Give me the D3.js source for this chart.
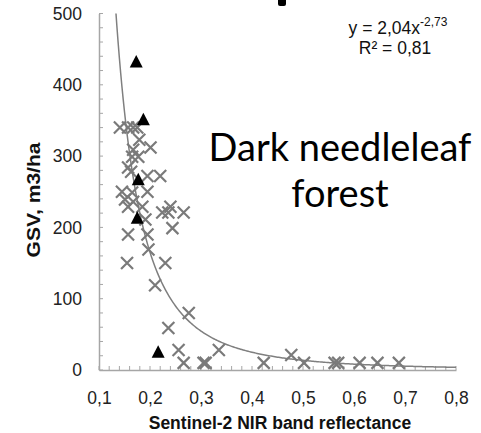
<!DOCTYPE html>
<html><head><meta charset="utf-8">
<script src="https://cdn.jsdelivr.net/npm/d3@7"></script>
<style>body{margin:0;background:#fff}svg{display:block}</style>
</head><body>
<svg id="c" width="481" height="433"></svg>
<script>
// Data
const crossX = [0.141,0.157,0.167,0.175,0.179,0.201,0.167,0.165,0.177,0.157,0.163,0.195,0.220,0.145,0.165,0.195,0.151,0.167,0.157,0.185,0.240,0.224,0.236,0.266,0.191,0.244,0.157,0.195,0.197,0.155,0.230,0.210,0.276,0.236,0.256,0.266,0.305,0.309,0.335,0.423,0.477,0.502,0.562,0.569,0.611,0.646,0.688];
const crossY = [340,340,340,340,323,312,309,299,299,284,278,272,272,250,249,250,239,236,229,229,229,221,221,221,211,199,190,190,169,150,150,119,80,59,28,10,10,10,28,10,21,10,10,10,10,10,10];
const triX = [0.173,0.187,0.177,0.175,0.216];
const triY = [432,351,267,213,25];
const fitA = 2.04, fitB = -2.73;
const xTicks = [0.1,0.2,0.3,0.4,0.5,0.6,0.7,0.8];
const yTicks = [0,100,200,300,400,500];
const eqText = "y = 2,04x", eqExp = "-2,73", r2Text = "R² = 0,81";
const titleX = "Sentinel-2 NIR band reflectance", titleY = "GSV, m3/ha";
const noteLines = ["Dark needleleaf","forest"];

const svg = d3.select("#c");
const x = d3.scaleLinear().domain([0.1,0.8]).range([99,456]);
const y = d3.scaleLinear().domain([0,500]).range([370,13.5]);
const axisCol = "#a6a6a6", markCol = "#7a7a7a";
const font = "Liberation Sans, Arial, sans-serif";
const fmt = d => String(d).replace(".", ",");

// small cropped black fragment at top
svg.append("path").attr("d","M278,0 H286 V4 Q286,6 284,6 H280 Q278,6 278,4 Z").attr("fill","#000");

// minor ticks (inside)
const gx = svg.append("g");
gx.selectAll("line.mx").data(d3.range(0.1,0.8001,0.02)).join("line")
  .attr("x1",d=>x(d)).attr("x2",d=>x(d)).attr("y1",370).attr("y2",366)
  .attr("stroke",axisCol).attr("stroke-width",1);
gx.selectAll("line.my").data(d3.range(0,500.1,20)).join("line")
  .attr("x1",99).attr("x2",103).attr("y1",d=>y(d)).attr("y2",d=>y(d))
  .attr("stroke",axisCol).attr("stroke-width",1);

// axes
const xAxis = d3.axisBottom(x).tickValues(xTicks).tickSize(0).tickPadding(22).tickFormat(fmt);
const gxa = svg.append("g").attr("transform","translate(0,370)").call(xAxis);
gxa.select(".domain").attr("stroke",axisCol).attr("stroke-width",1.5);
gxa.selectAll("text").attr("font-family",font).attr("font-size",17.5).attr("fill","#222");

const yAxis = d3.axisLeft(y).tickValues(yTicks).tickSize(0).tickPadding(17);
const gya = svg.append("g").attr("transform","translate(99,0)").call(yAxis);
gya.select(".domain").attr("stroke",axisCol).attr("stroke-width",1.5);
gya.selectAll("text").attr("font-family",font).attr("font-size",17.5).attr("fill","#222");

// trendline from the displayed equation
svg.append("clipPath").attr("id","pc").append("rect").attr("x",99).attr("y",13.5).attr("width",358).attr("height",357);
const curveXs = d3.range(0.125,0.8001,0.0025);
svg.append("path").attr("clip-path","url(#pc)")
  .attr("d", d3.line().x(d=>x(d)).y(d=>y(fitA*Math.pow(d,fitB)))(curveXs))
  .attr("fill","none").attr("stroke","#7f7f7f").attr("stroke-width",1.5);

// crosses
const s = 6;
svg.append("g").selectAll("path").data(d3.range(crossX.length)).join("path")
  .attr("d", i => { const cx=x(crossX[i]), cy=y(crossY[i]);
    return `M${cx-s},${cy-s}L${cx+s},${cy+s}M${cx-s},${cy+s}L${cx+s},${cy-s}`; })
  .attr("stroke",markCol).attr("stroke-width",2.2).attr("fill","none");

// triangles
svg.append("g").selectAll("path").data(d3.range(triX.length)).join("path")
  .attr("d", i => { const cx=x(triX[i]), cy=y(triY[i]);
    return `M${cx},${cy-7}L${cx+6.5},${cy+5.5}L${cx-6.5},${cy+5.5}Z`; })
  .attr("fill","#000");

// titles
svg.append("text").attr("x",280).attr("y",429).attr("text-anchor","middle")
  .attr("font-family",font).attr("font-weight","bold").attr("font-size",17.5)
  .attr("fill","#111").text(titleX);
svg.append("text").attr("transform","translate(40,200) rotate(-90)").attr("text-anchor","middle")
  .attr("font-family",font).attr("font-weight","bold").attr("font-size",18)
  .attr("textLength",115).attr("lengthAdjust","spacingAndGlyphs")
  .attr("fill","#111").text(titleY);

// equation
const eq = svg.append("text").attr("x",398).attr("y",34).attr("text-anchor","middle")
  .attr("font-family",font).attr("font-size",17.5).attr("fill","#111");
eq.append("tspan").text(eqText);
eq.append("tspan").attr("dy",-8).attr("font-size",12).text(eqExp);
svg.append("text").attr("x",395).attr("y",54).attr("text-anchor","middle")
  .attr("font-family",font).attr("font-size",17.5).attr("fill","#111").text(r2Text);

// annotation
svg.append("g").selectAll("text").data(noteLines).join("text")
  .attr("x",340).attr("y",(d,i)=>161+i*46).attr("text-anchor","middle")
  .attr("font-family","Lato, 'Open Sans', sans-serif").attr("font-size",38).attr("fill","#000").text(d=>d);
</script>
</body></html>
